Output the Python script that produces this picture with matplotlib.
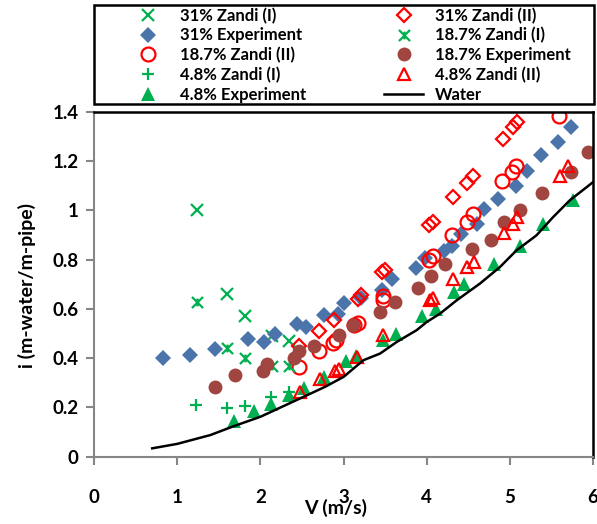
import matplotlib
matplotlib.use("Agg")
import matplotlib.pyplot as plt
from matplotlib.path import Path
from matplotlib.patches import Rectangle

# ---------------- data ----------------
z31_I_x = [1.24, 1.60, 1.81, 2.14, 2.34]
z31_I_y = [1.00, 0.66, 0.57, 0.49, 0.47]

e31_x = [0.83, 1.15, 1.46, 1.85, 2.04, 2.18, 2.44, 2.55, 2.76, 2.93, 3.01, 3.21, 3.46,
         3.58, 3.87, 3.98, 4.21, 4.30, 4.41, 4.60, 4.69, 4.86, 5.07, 5.21, 5.38, 5.58, 5.74]
e31_y = [0.40, 0.415, 0.437, 0.48, 0.465, 0.50, 0.537, 0.527, 0.577, 0.58, 0.625, 0.646, 0.676,
         0.72, 0.765, 0.805, 0.835, 0.855, 0.906, 0.946, 1.005, 1.048, 1.10, 1.16, 1.227, 1.28, 1.34]

z187_II_x = [2.46, 2.71, 2.87, 2.91, 3.13, 3.17, 3.47, 3.48, 4.03, 4.08, 4.31, 4.48, 4.56,
             4.91, 5.03, 5.08, 5.59]
z187_II_y = [0.365, 0.43, 0.463, 0.474, 0.534, 0.541, 0.637, 0.652, 0.80, 0.817, 0.90, 0.953, 0.985,
             1.118, 1.156, 1.182, 1.383]

z48_I_x = [1.23, 1.60, 1.82, 2.13, 2.34]
z48_I_y = [0.21, 0.196, 0.205, 0.243, 0.264]

e48_x = [1.68, 1.92, 2.13, 2.35, 2.52, 2.77, 3.03, 3.15, 3.48, 3.63, 3.94, 4.11, 4.33, 4.45,
         4.81, 5.12, 5.40, 5.76]
e48_y = [0.145, 0.184, 0.213, 0.252, 0.279, 0.323, 0.387, 0.409, 0.476, 0.50, 0.573, 0.598, 0.669, 0.70,
         0.784, 0.857, 0.946, 1.044]

z31_II_x = [2.47, 2.71, 2.88, 3.17, 3.21, 3.46, 3.50, 4.03, 4.08, 4.32, 4.49, 4.56, 4.92, 5.04, 5.09]
z31_II_y = [0.45, 0.51, 0.555, 0.64, 0.655, 0.75, 0.76, 0.94, 0.955, 1.055, 1.11, 1.14, 1.29, 1.34, 1.36]

z187_I_x = [1.24, 1.60, 1.81, 2.14, 2.34]
z187_I_y = [0.63, 0.44, 0.40, 0.37, 0.37]

e187_x = [1.45, 1.70, 2.03, 2.08, 2.40, 2.47, 2.64, 2.95, 3.11, 3.44, 3.62, 3.90, 4.05, 4.22,
          4.55, 4.77, 4.93, 5.12, 5.39, 5.73, 5.94]
e187_y = [0.284, 0.331, 0.35, 0.377, 0.402, 0.428, 0.45, 0.494, 0.534, 0.588, 0.629, 0.687, 0.734, 0.781,
          0.842, 0.879, 0.953, 1.003, 1.072, 1.156, 1.237]

z48_II_x = [2.48, 2.72, 2.90, 2.94, 3.16, 3.48, 4.04, 4.08, 4.32, 4.49, 4.57, 4.93, 5.04, 5.09, 5.60, 5.70]
z48_II_y = [0.264, 0.316, 0.348, 0.355, 0.405, 0.494, 0.637, 0.643, 0.72, 0.77, 0.792, 0.907, 0.946, 0.973, 1.142, 1.18]

water_x = [0.70, 1.0, 1.4, 1.68, 2.0, 2.48, 2.78, 3.0, 3.24, 3.44, 3.64, 3.88, 4.0, 4.16, 4.36,
           4.64, 4.88, 5.08, 5.32, 5.52, 5.72, 6.0]
water_y = [0.034, 0.052, 0.088, 0.124, 0.162, 0.237, 0.284, 0.324, 0.392, 0.419, 0.466, 0.514, 0.547,
           0.581, 0.635, 0.703, 0.77, 0.838, 0.899, 0.973, 1.041, 1.115]

x_ticks = [0, 1, 2, 3, 4, 5, 6]
y_ticks = [0, 0.2, 0.4, 0.6, 0.8, 1.0, 1.2, 1.4]
y_tick_labels = ["0", "0.2", "0.4", "0.6", "0.8", "1", "1.2", "1.4"]

# ---------------- style ----------------
plt.rcParams['font.family'] = ['Lato', 'DejaVu Sans']
plt.rcParams['font.weight'] = 'bold'

GREEN = '#00B050'
BLUE = '#4A74AA'
BROWN = '#A0453F'
RED = '#FF0000'
GRAY = '#868686'

star_marker = Path([(-1, -1), (1, 1), (-1, 1), (1, -1), (0, -0.7), (0, 0.7)],
                   [Path.MOVETO, Path.LINETO, Path.MOVETO, Path.LINETO, Path.MOVETO, Path.LINETO])

fig = plt.figure(figsize=(5.97, 5.24), dpi=100)
ax = fig.add_axes([94/597, 1 - 456.7/524, (593-94)/597, (456.7-112)/524])

h_z31I, = ax.plot(z31_I_x, z31_I_y, 'x', ls='none', color=GREEN, ms=8, mew=1.6, label='31% Zandi (I)')
h_e31, = ax.plot(e31_x, e31_y, 'D', ls='none', color=BLUE, ms=8, mew=0, label='31% Experiment')
h_z187II, = ax.plot(z187_II_x, z187_II_y, 'o', ls='none', mfc='none', mec=RED, ms=10, mew=1.6, label='18.7% Zandi (II)')
h_z48I, = ax.plot(z48_I_x, z48_I_y, '+', ls='none', color=GREEN, ms=9, mew=1.6, label='4.8% Zandi (I)')
h_e48, = ax.plot(e48_x, e48_y, '^', ls='none', color=GREEN, ms=10, mew=0, label='4.8% Experiment')
h_z31II, = ax.plot(z31_II_x, z31_II_y, 'D', ls='none', mfc='none', mec=RED, ms=7, mew=1.6, label='31% Zandi (II)')
h_z187I, = ax.plot(z187_I_x, z187_I_y, marker=star_marker, ls='none', color=GREEN, ms=8, mew=1.6, label='18.7% Zandi (I)')
h_e187, = ax.plot(e187_x, e187_y, 'o', ls='none', color=BROWN, ms=10, mew=0, label='18.7% Experiment')
h_z48II, = ax.plot(z48_II_x, z48_II_y, '^', ls='none', mfc='none', mec=RED, ms=9, mew=1.6, label='4.8% Zandi (II)')
h_water, = ax.plot(water_x, water_y, '-', color='black', lw=1.8, label='Water')

ax.set_xlim(0, 6)
ax.set_ylim(0, 1.4)
ax.set_xticks(x_ticks)
ax.set_yticks(y_ticks)
ax.set_yticklabels(y_tick_labels)

for s in ['left', 'bottom']:
    ax.spines[s].set_color(GRAY)
    ax.spines[s].set_linewidth(1.5)
for s in ['top', 'right']:
    ax.spines[s].set_color('black')
    ax.spines[s].set_linewidth(1.8)

ax.tick_params(axis='both', direction='out', color=GRAY, length=6, width=1.5,
               labelsize=13.5, labelcolor='black')
ax.tick_params(axis='x', pad=17)
ax.tick_params(axis='y', pad=5)
for lab in ax.get_xticklabels() + ax.get_yticklabels():
    lab.set_fontweight('bold')

fig.text(336/597, 1 - 508/524, 'V (m/s)', ha='center', va='center', fontsize=14, fontweight='bold')
fig.text(27/597, 1 - 286/524, 'i (m-water/m-pipe)', ha='center', va='center', rotation=90,
         fontsize=14, fontweight='bold')

# legend box (drawn separately so the entries can be placed freely inside)
fig.patches.append(Rectangle((94/597, 1 - 104/524), 500/597, 99/524, transform=fig.transFigure,
                             fill=False, ec='black', lw=1.8))

handles = [h_z31I, h_e31, h_z187II, h_z48I, h_e48, h_z31II, h_z187I, h_e187, h_z48II, h_water]
leg = fig.legend(handles=handles, labels=[h.get_label() for h in handles], ncol=2,
                 loc='upper left', bbox_to_anchor=(129/597, 1 - 8/524, (571-129)/597, 0.001),
                 mode='expand', frameon=False,
                 handlelength=2.3, handletextpad=0.75, labelspacing=0.215,
                 borderpad=0, borderaxespad=0, columnspacing=2, numpoints=1,
                 prop={'weight': 'bold', 'size': 12})

fig.savefig('out.png', dpi=100)
